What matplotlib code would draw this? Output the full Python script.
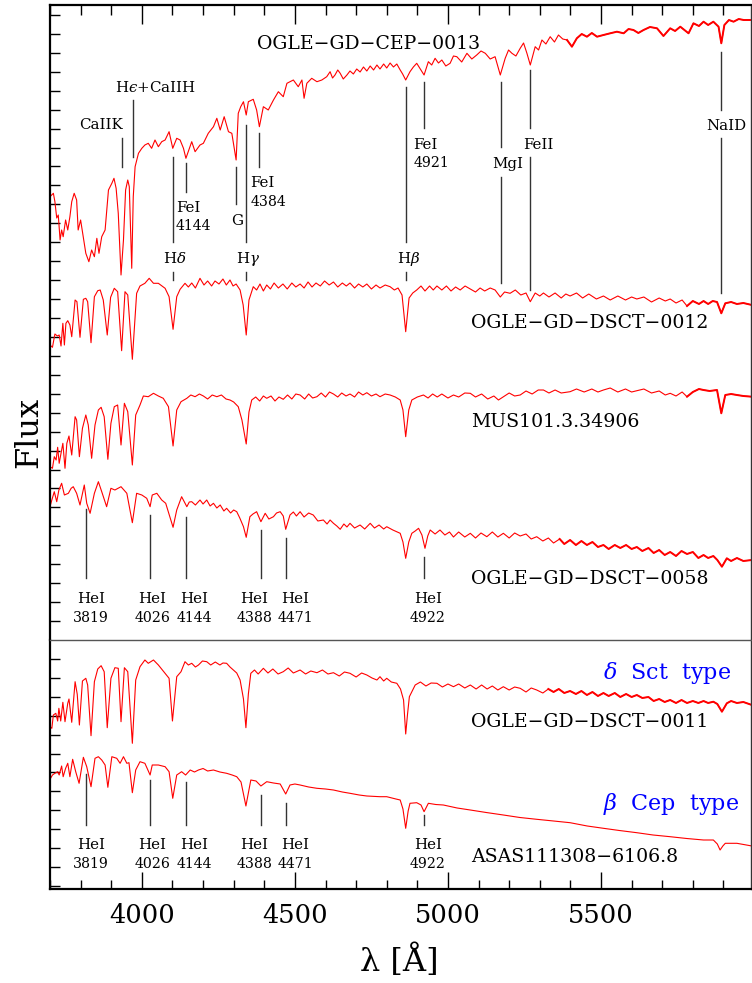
import numpy as np
import matplotlib
matplotlib.use("Agg")
import matplotlib.pyplot as plt
from matplotlib.ticker import MultipleLocator

# ===================================================
# DATA  (wavelength [A], flux in arbitrary units)
# ===================================================

cep0013 = [(3700, 443.3), (3711, 446.7), (3716, 438.3), (3722, 422), (3727, 425),
           (3733, 400), (3738, 410), (3743, 403.3), (3751, 420), (3758, 410),
           (3765, 423.3), (3771, 438.3), (3779, 446.7), (3787, 440), (3792, 410),
           (3800, 420), (3806, 408.3), (3817, 386.7), (3827, 378.3), (3836, 390),
           (3845, 383.3), (3853, 401.7), (3860, 386.7), (3869, 403.3), (3880, 410),
           (3891, 450), (3902, 456.7), (3909, 461.7), (3916, 451.7), (3923, 426.7),
           (3932, 365), (3940, 400), (3947, 450), (3954, 460), (3959, 453.3),
           (3967, 371.7), (3972, 443.3), (3978, 473.3), (3989, 486.7), (4000, 491.7),
           (4010, 495), (4021, 496.7), (4032, 491.7), (4043, 500), (4054, 493.3),
           (4065, 498.3), (4076, 500), (4089, 508.3), (4101, 491.7), (4114, 501.7),
           (4125, 500), (4136, 491.7), (4144, 481.7), (4163, 498.3), (4174, 488.3),
           (4190, 495), (4201, 496.7), (4217, 506.7), (4234, 513.3), (4245, 521.7),
           (4256, 510), (4269, 523.3), (4283, 508.3), (4294, 506.7), (4308, 480),
           (4315, 526.7), (4323, 533.3), (4332, 538.3), (4341, 525), (4348, 538.3),
           (4364, 540.7), (4375, 530), (4384, 513.3), (4397, 533.3), (4413, 530),
           (4430, 540), (4446, 548.3), (4462, 543.3), (4474, 556.7), (4495, 560),
           (4511, 553.3), (4523, 560), (4530, 541.7), (4539, 556.7), (4555, 561.7),
           (4572, 558.3), (4588, 560), (4604, 563.3), (4615, 568.3), (4623, 562),
           (4631, 565), (4640, 570), (4648, 566.7), (4658, 561), (4670, 565),
           (4680, 569), (4691, 566), (4702, 571), (4713, 568), (4724, 573),
           (4735, 569), (4746, 574), (4757, 570), (4768, 575), (4778, 571),
           (4790, 576), (4800, 572), (4811, 577), (4822, 573), (4833, 576),
           (4844, 570), (4852, 566), (4862, 560), (4876, 568.3), (4887, 573),
           (4898, 576.7), (4915, 568.3), (4922, 565), (4936, 578.3), (4947, 575),
           (4958, 581.7), (4969, 577), (4980, 580), (4993, 574), (5007, 576.7),
           (5018, 584), (5029, 583.3), (5045, 578), (5062, 586.7), (5078, 581),
           (5094, 585), (5108, 589), (5122, 586.7), (5138, 581), (5154, 583.3),
           (5171, 565), (5187, 581.7), (5198, 590), (5209, 586.7), (5222, 584),
           (5236, 591.7), (5247, 597), (5258, 586.7), (5269, 575), (5285, 593.3),
           (5296, 590), (5307, 600), (5320, 596), (5334, 603.3), (5348, 598),
           (5361, 605), (5375, 601), (5389, 600), (5405, 593.3), (5421, 601.7),
           (5437, 606), (5454, 603.3), (5470, 607), (5487, 603.3), (5508, 605),
           (5530, 606.7), (5552, 608.3), (5574, 606.7), (5590, 611), (5606, 610),
           (5622, 607), (5639, 610), (5660, 613), (5683, 611.7), (5704, 604),
           (5726, 611.7), (5742, 609), (5759, 613.3), (5786, 606.7), (5802, 616.7),
           (5820, 614), (5835, 618.3), (5850, 615), (5867, 618.3), (5884, 613.3),
           (5893, 596.7), (5903, 615), (5918, 620), (5933, 618.3), (5950, 621),
           (5966, 620), (5993, 620)]

dsct0012 = [(3700, 295), (3708, 292.7), (3716, 306), (3724, 304), (3730, 305),
            (3736, 294), (3742, 316.7), (3747, 295), (3752, 316.7), (3758, 319.3),
            (3765, 315), (3771, 303.3), (3782, 340), (3788, 338.3), (3798, 302.7),
            (3809, 340.7), (3817, 341.7), (3823, 338.3), (3834, 297.3), (3845, 343.3),
            (3856, 349.3), (3864, 350), (3874, 340), (3887, 305), (3898, 342.7),
            (3910, 351.7), (3921, 348.3), (3934, 289.3), (3945, 348.3), (3954, 345),
            (3969, 280.7), (3983, 346.7), (3994, 354), (4010, 356.7), (4024, 361.7),
            (4038, 356.7), (4054, 356.7), (4076, 351.7), (4089, 343.3), (4102, 310.7),
            (4114, 343.3), (4125, 350.7), (4141, 356.7), (4152, 353), (4163, 357),
            (4175, 352), (4190, 361.7), (4203, 355), (4215, 359), (4228, 354),
            (4239, 359), (4252, 356), (4265, 361), (4276, 355), (4288, 360),
            (4298, 354), (4308, 356), (4321, 350), (4331, 335), (4341, 305),
            (4350, 340), (4364, 353.3), (4375, 350), (4386, 356), (4397, 349),
            (4408, 355), (4420, 351), (4432, 357), (4446, 352), (4461, 356),
            (4475, 351), (4490, 357), (4503, 353), (4517, 356), (4530, 352),
            (4543, 358), (4556, 353), (4569, 357), (4583, 354), (4597, 359),
            (4612, 355), (4626, 358), (4640, 353), (4655, 357), (4668, 354),
            (4680, 357), (4695, 352), (4708, 356), (4722, 353), (4735, 356),
            (4750, 351), (4765, 355), (4778, 352), (4795, 355), (4811, 353.3),
            (4825, 350), (4837, 352), (4850, 345), (4862, 308.3), (4873, 342),
            (4885, 347), (4898, 350), (4912, 354), (4925, 349), (4940, 354),
            (4952, 350), (4964, 354), (4980, 350), (4995, 354), (5010, 349),
            (5025, 353), (5040, 350), (5056, 354), (5073, 351), (5090, 348),
            (5105, 352), (5120, 349), (5138, 352), (5154, 350), (5171, 343),
            (5185, 348), (5203, 346.7), (5220, 350), (5238, 345), (5255, 347),
            (5269, 338.3), (5285, 347), (5300, 344), (5312, 347), (5330, 343),
            (5350, 347), (5370, 342), (5385, 346), (5399, 344), (5420, 347),
            (5440, 342), (5460, 346), (5485, 341), (5508, 344), (5530, 340),
            (5555, 344), (5580, 340), (5600, 343), (5617, 341), (5640, 343),
            (5665, 338), (5690, 342), (5710, 339), (5726, 341), (5745, 337),
            (5765, 340), (5781, 334), (5800, 339), (5820, 336), (5835, 339),
            (5850, 336), (5865, 339), (5879, 338), (5893, 326.7), (5906, 336.7),
            (5925, 338), (5944, 336), (5965, 337), (5993, 335)]

mus101 = [(3700, 173.3), (3708, 171.7), (3714, 183.3), (3720, 180), (3725, 192.7),
          (3730, 176.7), (3736, 186.7), (3742, 196.7), (3749, 171.7), (3755, 196.7),
          (3762, 204), (3771, 185), (3782, 223.3), (3787, 220), (3796, 183.3),
          (3806, 211.7), (3817, 225), (3825, 215), (3836, 181.7), (3847, 215),
          (3858, 230), (3867, 232.7), (3877, 223.3), (3889, 180.7), (3899, 216.7),
          (3910, 233.3), (3921, 235), (3932, 195), (3943, 236.7), (3954, 228.3),
          (3969, 175), (3980, 225), (3994, 235), (4005, 244), (4021, 243.3),
          (4038, 246.7), (4054, 244), (4070, 241.7), (4087, 233.3), (4102, 194),
          (4114, 230), (4128, 238.3), (4147, 241.7), (4160, 245), (4174, 243.3),
          (4188, 246), (4201, 244), (4215, 241), (4230, 245), (4245, 243.3),
          (4260, 245), (4275, 241), (4288, 240), (4300, 238), (4315, 233.3),
          (4327, 220), (4341, 196), (4350, 228), (4359, 240), (4372, 243),
          (4385, 239), (4397, 244), (4408, 241.7), (4422, 244), (4435, 239),
          (4448, 243), (4462, 240.7), (4476, 245), (4490, 241), (4503, 246),
          (4517, 245), (4532, 241), (4545, 246), (4558, 242), (4572, 243.3),
          (4586, 247), (4600, 243), (4613, 248), (4626, 246), (4640, 243),
          (4653, 247), (4667, 244), (4680, 246), (4695, 243), (4708, 248),
          (4722, 245), (4735, 247.3), (4750, 244), (4765, 246), (4778, 243.3),
          (4795, 246), (4811, 245), (4828, 243), (4844, 240), (4853, 230),
          (4862, 203.3), (4872, 230), (4882, 240), (4900, 243), (4920, 245),
          (4935, 242), (4950, 246), (4965, 243), (4980, 246), (5000, 242),
          (5018, 245), (5035, 243), (5055, 247), (5073, 246.7), (5090, 243),
          (5110, 246), (5130, 241), (5150, 244), (5165, 240), (5180, 243),
          (5200, 247), (5218, 244), (5236, 245), (5255, 249), (5275, 246),
          (5295, 250), (5312, 250), (5330, 247), (5350, 250), (5370, 247),
          (5399, 248.3), (5420, 251), (5445, 248), (5470, 251), (5490, 248),
          (5508, 250), (5530, 252), (5555, 248), (5580, 251), (5600, 248),
          (5617, 249.3), (5640, 251), (5665, 247), (5690, 249), (5710, 245),
          (5726, 246.7), (5745, 244), (5765, 248), (5781, 243.3), (5800, 248),
          (5820, 251), (5835, 250), (5855, 249), (5879, 250), (5893, 226.7),
          (5906, 245), (5925, 246), (5944, 245), (5965, 244), (5993, 243.3)]

dsct0058 = [(3700, 133.3), (3706, 140), (3714, 148.3), (3722, 138.3), (3729, 150),
            (3738, 156.7), (3747, 145), (3760, 146.7), (3769, 151.7), (3776, 153.3),
            (3787, 146.7), (3798, 135), (3812, 155), (3820, 136.7), (3831, 126.7),
            (3845, 146.7), (3858, 158.3), (3869, 148.3), (3885, 133.3), (3899, 151.7),
            (3912, 150), (3932, 153.3), (3951, 146.7), (3969, 117.3), (3983, 146.7),
            (4000, 145), (4016, 141.7), (4027, 133.3), (4034, 145), (4049, 146.7),
            (4065, 140), (4078, 136.7), (4102, 112.7), (4114, 130), (4130, 143.3),
            (4147, 133.3), (4155, 138), (4163, 138.3), (4175, 135), (4190, 140),
            (4200, 136), (4212, 140), (4223, 134), (4234, 136.7), (4245, 132),
            (4256, 135), (4268, 129), (4277, 131.7), (4290, 127), (4300, 130),
            (4310, 128.3), (4320, 122), (4332, 113.3), (4341, 102.7), (4353, 123.3),
            (4363, 126), (4375, 128.3), (4389, 118.3), (4403, 126.7), (4415, 121),
            (4430, 123.3), (4440, 127), (4452, 128.3), (4462, 124), (4470, 110.7),
            (4484, 125), (4495, 128), (4505, 124), (4517, 128.3), (4530, 123),
            (4545, 127), (4560, 125), (4575, 119), (4593, 120), (4605, 116),
            (4615, 120), (4626, 116.7), (4637, 114), (4648, 110.7), (4660, 116),
            (4670, 113), (4680, 116.7), (4695, 112), (4713, 115), (4728, 111),
            (4746, 116.7), (4760, 112), (4775, 115), (4790, 111), (4800, 113.3),
            (4820, 110), (4835, 108), (4844, 106.7), (4853, 98), (4862, 81.7),
            (4872, 98), (4882, 106.7), (4893, 109), (4904, 111.7), (4915, 105),
            (4925, 91.7), (4934, 104), (4942, 110), (4958, 106), (4974, 110),
            (4990, 105), (5005, 108), (5018, 103), (5035, 108), (5055, 103),
            (5073, 106.7), (5090, 102), (5108, 107), (5127, 103.3), (5145, 108),
            (5163, 103), (5181, 106.7), (5200, 102), (5218, 107), (5236, 104),
            (5255, 106), (5272, 101), (5290, 103.3), (5310, 99), (5328, 102),
            (5345, 97), (5365, 101), (5380, 96), (5399, 100), (5418, 95),
            (5436, 99), (5454, 95), (5472, 98), (5490, 93), (5508, 95),
            (5525, 91), (5545, 95), (5563, 92), (5582, 95), (5600, 91),
            (5617, 93), (5635, 89), (5655, 92), (5672, 87), (5690, 90),
            (5708, 85), (5726, 88), (5745, 84), (5763, 89), (5781, 86),
            (5800, 88), (5818, 82), (5835, 85), (5850, 82), (5867, 84),
            (5880, 80), (5895, 73.3), (5911, 81.7), (5925, 79), (5944, 82),
            (5965, 79), (5993, 80)]

dsct0011 = [(3700, 162.3), (3706, 160.7), (3711, 174), (3719, 175.7), (3725, 168),
            (3729, 180.7), (3735, 168), (3742, 186.7), (3749, 167.3), (3758, 185.7),
            (3762, 190), (3771, 166.7), (3782, 207.3), (3789, 194.7), (3796, 164),
            (3806, 208), (3817, 210.7), (3823, 204), (3834, 153.3), (3845, 207.3),
            (3856, 220), (3867, 223.3), (3877, 217.3), (3887, 161.3), (3899, 210.7),
            (3912, 221.3), (3923, 220.7), (3932, 167.3), (3943, 221.3), (3954, 217.3),
            (3969, 145.7), (3980, 209), (3994, 222.3), (4010, 229), (4021, 225.7),
            (4038, 229), (4054, 224), (4076, 215.7), (4089, 210.7), (4100, 168),
            (4114, 212.3), (4128, 217.3), (4141, 227.3), (4152, 224), (4163, 225.7),
            (4175, 222), (4185, 224), (4198, 228), (4212, 227.3), (4225, 224),
            (4240, 227), (4255, 224), (4265, 226), (4277, 225.7), (4288, 222),
            (4299, 219), (4310, 216), (4321, 209), (4332, 190), (4340, 161.3),
            (4348, 195), (4356, 215.7), (4368, 219), (4380, 215), (4397, 220.7),
            (4412, 216), (4428, 220), (4445, 215), (4462, 217.3), (4478, 221),
            (4495, 216), (4517, 219), (4535, 215), (4552, 218), (4572, 216.3),
            (4590, 219), (4608, 215), (4626, 216.3), (4645, 213), (4662, 217),
            (4680, 215.7), (4700, 212), (4718, 216), (4735, 214), (4752, 211),
            (4768, 209), (4778, 212.3), (4790, 208), (4800, 210.7), (4815, 207),
            (4833, 205.7), (4845, 200), (4855, 189), (4862, 155), (4868, 175),
            (4874, 192.3), (4893, 204), (4910, 207), (4928, 203), (4945, 206),
            (4964, 205.7), (4982, 202), (5000, 205), (5018, 202.3), (5035, 205),
            (5055, 201), (5073, 204), (5092, 200), (5110, 204), (5128, 200),
            (5145, 203), (5163, 199), (5181, 202.3), (5200, 199), (5218, 202),
            (5236, 200.7), (5255, 197), (5272, 201), (5290, 199), (5310, 196),
            (5328, 200), (5345, 197), (5362, 200), (5380, 196), (5399, 198),
            (5418, 195), (5436, 198), (5454, 194), (5472, 197), (5490, 193),
            (5508, 196), (5525, 193), (5545, 196), (5563, 192), (5582, 195),
            (5600, 192), (5617, 194), (5635, 191), (5655, 192), (5672, 188),
            (5690, 190), (5708, 187), (5726, 189), (5745, 186), (5763, 189),
            (5781, 186), (5800, 188), (5818, 186), (5835, 188), (5850, 186),
            (5867, 187.3), (5880, 185), (5895, 177.3), (5911, 185.7), (5925, 188),
            (5944, 186), (5965, 187), (5993, 184)]

asas111308 = [(3700, 109.7), (3708, 114), (3716, 115.7), (3725, 117.3), (3730, 114),
              (3738, 123), (3743, 112.3), (3751, 120.7), (3758, 125.7), (3765, 112.3),
              (3774, 129.7), (3784, 117.3), (3795, 105.7), (3809, 131.7), (3820, 122.3),
              (3834, 102.3), (3847, 130.7), (3858, 132.3), (3869, 129), (3880, 124),
              (3889, 101.7), (3902, 132.3), (3918, 130.7), (3929, 125.7), (3940, 132.3),
              (3951, 125.7), (3958, 126.3), (3969, 96.3), (3980, 119), (3994, 127.3),
              (4010, 125.7), (4027, 114), (4034, 124), (4054, 124), (4076, 122.3),
              (4089, 117.3), (4101, 90.7), (4114, 114), (4130, 117.3), (4143, 114),
              (4158, 119), (4172, 117), (4185, 119), (4200, 120.5), (4215, 118),
              (4234, 119), (4255, 117), (4277, 115.7), (4295, 114), (4310, 112.3),
              (4324, 107), (4340, 83), (4356, 109), (4373, 108), (4389, 103),
              (4408, 107.3), (4430, 106), (4452, 105), (4470, 95), (4484, 104),
              (4500, 105), (4517, 104), (4545, 102), (4572, 100.7), (4600, 100),
              (4626, 99), (4655, 97), (4680, 95.7), (4710, 94), (4735, 93),
              (4778, 92.3), (4800, 92.3), (4830, 90), (4844, 89), (4853, 80),
              (4862, 60.7), (4870, 78), (4876, 85.7), (4898, 86.3), (4912, 84),
              (4922, 77.3), (4936, 85.7), (4960, 84.5), (4985, 84), (5030, 81),
              (5073, 79), (5125, 76.5), (5181, 74), (5235, 71.5), (5290, 69.7),
              (5345, 68), (5399, 66.3), (5455, 63), (5508, 60.7), (5560, 58.5),
              (5617, 56.3), (5670, 54), (5726, 52.3), (5780, 50.5), (5835, 49),
              (5867, 49), (5880, 45), (5889, 39), (5898, 43), (5906, 45.7),
              (5944, 45.7), (5993, 43)]

star_names = ["OGLE\u2212GD\u2212CEP\u22120013", "OGLE\u2212GD\u2212DSCT\u22120012",
              "MUS101.3.34906", "OGLE\u2212GD\u2212DSCT\u22120058",
              "OGLE\u2212GD\u2212DSCT\u22120011", "ASAS111308\u22126106.8"]

hei_lines = [3819, 4026, 4144, 4388, 4471, 4922]

# ===================================================
# STYLE
# ===================================================

plt.rcParams["font.family"] = "DejaVu Serif"
plt.rcParams["mathtext.fontset"] = "dejavuserif"

RED = "#ff0000"
BLUE = "#0000ff"
MARK = "#333333"

fig = plt.figure(figsize=(7.52, 9.83), dpi=100)

ax1 = fig.add_axes([50 / 752, 343 / 983, 701 / 752, 635 / 983])
ax2 = fig.add_axes([50 / 752, 94 / 983, 701 / 752, 249 / 983])


def draw_spec(ax, spec, thick_from=None):
    w = np.array([p[0] for p in spec], dtype=float)
    f = np.array([p[1] for p in spec], dtype=float)
    ax.plot(w, f, color=RED, lw=0.8, solid_joinstyle="round")
    if thick_from is not None:
        i = max(np.searchsorted(w, thick_from) - 1, 0)
        ax.plot(w[i:], f[i:], color=RED, lw=1.4, solid_joinstyle="round")


# ===================================================
# TOP PANEL
# ===================================================

draw_spec(ax1, cep0013, 5390)
draw_spec(ax1, dsct0012, 5800)
draw_spec(ax1, mus101, 5800)
draw_spec(ax1, dsct0058, 5370)

big = 13.6
ax1.text(4376, 591, star_names[0], fontsize=big, va="baseline")
ax1.text(5075, 312, star_names[1], fontsize=big, va="baseline")
ax1.text(5075, 213, star_names[2], fontsize=big, va="baseline")
ax1.text(5075, 56, star_names[3], fontsize=big, va="baseline")

# line identifications (wavelength, from, to)
top_marks = [(3934, 473, 502), (3970, 483, 540),
             (4102, 398, 483), (4102, 360, 368),
             (4144, 448, 477), (4306, 436, 473),
             (4341, 398, 515), (4341, 360, 368),
             (4384, 473, 507),
             (4862, 398, 553), (4862, 360, 368),
             (4921, 512, 558),
             (5173, 493, 558), (5173, 357, 463),
             (5269, 512, 570), (5269, 350, 483),
             (5893, 530, 588), (5893, 347, 502)]
for lam, y0, y1 in top_marks:
    ax1.plot([lam, lam], [y0, y1], color=MARK, lw=1.0)

lab = 10.8
num = 10.2
ax1.text(3867, 510.7, "CaIIK", fontsize=lab, ha="center", va="baseline")
ax1.text(3912, 548.3, "H$\u03f5$+CaIIH", fontsize=lab, ha="left", va="baseline")
ax1.text(4107, 376.7, r"H$\delta$", fontsize=lab, ha="center", va="baseline")
ax1.text(4112, 428.3, "FeI", fontsize=lab, ha="left", va="baseline")
ax1.text(4112, 410, "4144", fontsize=num, ha="left", va="baseline")
ax1.text(4311, 415, "G", fontsize=lab, ha="center", va="baseline")
ax1.text(4347, 376.7, r"H$\gamma$", fontsize=lab, ha="center", va="baseline")
ax1.text(4354, 453.3, "FeI", fontsize=lab, ha="left", va="baseline")
ax1.text(4354, 434, "4384", fontsize=num, ha="left", va="baseline")
ax1.text(4870, 376.7, r"H$\beta$", fontsize=lab, ha="center", va="baseline")
ax1.text(4887, 491, "FeI", fontsize=lab, ha="left", va="baseline")
ax1.text(4887, 473.3, "4921", fontsize=num, ha="left", va="baseline")
ax1.text(5194, 472.3, "MgI", fontsize=lab, ha="center", va="baseline")
ax1.text(5296, 491, "FeII", fontsize=lab, ha="center", va="baseline")
ax1.text(5909, 510, "NaID", fontsize=lab, ha="center", va="baseline")

hei_tops_1 = [131, 125, 123, 110, 102, 83]
hei_text_x = [3833, 4035, 4171, 4368, 4501, 4934]
for lam, top, tx in zip(hei_lines, hei_tops_1, hei_text_x):
    ax1.plot([lam, lam], [62, top], color=MARK, lw=1.0)
    ax1.text(tx, 36.7, "HeI", fontsize=lab, ha="center", va="baseline")
    ax1.text(tx, 18.3, str(lam), fontsize=num, ha="center", va="baseline")

# ===================================================
# BOTTOM PANEL
# ===================================================

draw_spec(ax2, dsct0011, 5330)
draw_spec(ax2, asas111308)

ax2.text(5075, 162.3, star_names[4], fontsize=big, va="baseline")
ax2.text(5075, 27.3, star_names[5], fontsize=big, va="baseline")
ax2.text(5506, 209.7, r"$\delta$  Sct  type", fontsize=16, color=BLUE, va="baseline")
ax2.text(5506, 79, r"$\beta$  Cep  type", fontsize=16, color=BLUE, va="baseline")

hei_tops_2 = [115, 109, 107, 94, 86, 74]
for lam, top, tx in zip(hei_lines, hei_tops_2, hei_text_x):
    ax2.plot([lam, lam], [64, top], color=MARK, lw=1.0)
    ax2.text(tx, 39.7, "HeI", fontsize=lab, ha="center", va="baseline")
    ax2.text(tx, 20.7, str(lam), fontsize=num, ha="center", va="baseline")

# ===================================================
# AXES
# ===================================================

for ax in (ax1, ax2):
    ax.set_xlim(3700, 5990)
    ax.xaxis.set_major_locator(MultipleLocator(500))
    ax.xaxis.set_minor_locator(MultipleLocator(100))
    ax.spines["left"].set_linewidth(1.6)
    ax.spines["right"].set_linewidth(1.0)
    ax.spines["right"].set_color("#333333")

ax1.set_ylim(0, 635)
ax1.set_yticks(np.arange(1, 34) * 18.94)
ax1.tick_params(axis="x", which="both", direction="in", top=True, bottom=False,
                labelbottom=False, labeltop=False, width=1.0)
ax1.tick_params(axis="x", which="major", length=13.7)
ax1.tick_params(axis="x", which="minor", length=7.2)
ax1.tick_params(axis="y", direction="in", left=True, right=False,
                labelleft=False, length=7.2, width=1.0)
ax1.spines["top"].set_linewidth(1.6)
ax1.spines["bottom"].set_visible(False)

ax2.set_ylim(0, 249)
ax2.set_yticks(3 + np.arange(0, 13) * 18.92)
ax2.tick_params(axis="x", which="both", direction="in", top=False, bottom=True,
                width=1.0, labelsize=18.5, pad=10)
ax2.tick_params(axis="x", which="major", length=12.5)
ax2.tick_params(axis="x", which="minor", length=6.5)
ax2.tick_params(axis="y", direction="in", left=True, right=False,
                labelleft=False, length=7.2, width=1.0)
ax2.spines["bottom"].set_linewidth(1.6)
ax2.spines["top"].set_linewidth(1.0)
ax2.spines["top"].set_color("#555555")

fig.text(28.4 / 752, 1 - 432 / 983, "Flux", fontsize=23, rotation=90,
         ha="center", va="center")
fig.text(399 / 752, 1 - 961 / 983, "\u03bb [\u00c5]", fontsize=23,
         ha="center", va="center")

# ===================================================
# SAVE
# ===================================================

fig.savefig("out.png", dpi=100)
